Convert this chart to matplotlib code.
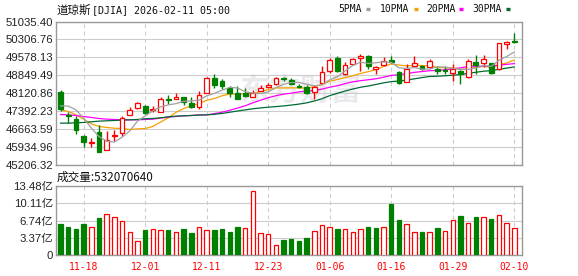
import numpy as np
import pandas as pd
import matplotlib
matplotlib.use('Agg')
import matplotlib.pyplot as plt
from matplotlib.lines import Line2D

plt.rcParams['font.family'] = ['Liberation Sans', 'Noto Sans CJK SC']

dates = ['11-13', '11-14', '11-17', '11-18', '11-19', '11-20', '11-21', '11-24', '11-25', '11-26',
         '11-28', '12-01', '12-02', '12-03', '12-04', '12-05', '12-08', '12-09', '12-10', '12-11',
         '12-12', '12-15', '12-16', '12-17', '12-18', '12-19', '12-22', '12-23', '12-24', '12-26',
         '12-29', '12-30', '12-31', '01-02', '01-05', '01-06', '01-07', '01-08', '01-09', '01-12',
         '01-13', '01-14', '01-15', '01-16', '01-20', '01-21', '01-22', '01-23', '01-26', '01-27',
         '01-28', '01-29', '01-30', '02-02', '02-03', '02-04', '02-05', '02-06', '02-09', '02-10']
label_dates = ['11-18', '12-01', '12-11', '12-23', '01-06', '01-16', '01-29', '02-10']

opens = [48175, 47244, 47082, 46395, 46110, 46543, 45801, 46368, 46502, 47231,
         47514, 47609, 47433, 47379, 47892, 47905, 47959, 47717, 47582, 48121,
         48728, 48634, 48337, 48135, 48148, 47986, 48229, 48364, 48485, 48742,
         48661, 48431, 48364, 48175, 48526, 49038, 49537, 48890, 49295, 49537,
         49632, 49106, 49254, 49470, 48998, 48593, 49227, 49227, 49173, 49106,
         49065, 48958, 49025, 48769, 49389, 49362, 49335, 49092, 50118, 50239]
highs = [48242, 47339, 47177, 46420, 46300, 46840, 46584, 46611, 47177, 47555,
         47757, 47663, 47609, 47959, 48054, 48148, 47980, 47959, 48215, 48769,
         48904, 48688, 48418, 48418, 48350, 48256, 48458, 48526, 48769, 48796,
         48728, 48499, 48458, 48458, 49227, 49564, 49632, 49402, 49564, 49699,
         49659, 49227, 49578, 49632, 49038, 49295, 49632, 49254, 49497, 49200,
         49227, 49308, 49065, 49510, 49672, 49672, 49362, 50172, 50253, 50550]
lows = [47420, 46907, 46449, 45922, 45922, 45733, 45801, 46165, 46368, 47231,
        47501, 47271, 47339, 47379, 47690, 47905, 47636, 47530, 47501, 48121,
        48337, 48283, 47986, 47878, 47959, 47986, 48229, 48323, 48458, 48634,
        48458, 48323, 48108, 47878, 48526, 48958, 48998, 48863, 49280, 49038,
        49092, 48890, 49227, 49335, 48485, 48593, 49200, 49065, 49133, 48890,
        48904, 48634, 48485, 48728, 48904, 49200, 48890, 49065, 49902, 50172]
closes = [47474, 47177, 46610, 46125, 46150, 45747, 46233, 46435, 47096, 47447,
          47717, 47299, 47474, 47892, 47865, 47959, 47784, 47555, 48040, 48742,
          48458, 48431, 48135, 47905, 48013, 48148, 48350, 48458, 48755, 48715,
          48499, 48364, 48121, 48391, 48971, 49470, 49038, 49268, 49497, 49632,
          49227, 49173, 49443, 49403, 48526, 49092, 49362, 49106, 49416, 49010,
          49020, 49106, 48904, 49430, 49268, 49497, 48958, 50145, 50185, 50199]

# volume in 亿, and whether the bar is drawn red (up vs previous close)
volume = [6.08, 5.49, 5.17, 6.08, 5.43, 7.26, 7.98, 7.46, 6.67, 4.45,
          2.68, 4.91, 5.10, 4.91, 4.91, 4.45, 5.17, 4.38, 5.49, 4.91,
          4.97, 5.17, 4.58, 5.56, 5.30, 12.56, 4.32, 4.12, 1.90, 3.01,
          3.20, 2.81, 3.40, 4.71, 5.89, 5.49, 5.17, 5.10, 4.51, 5.10,
          5.56, 5.36, 5.49, 10.0, 6.93, 6.08, 4.51, 4.51, 4.51, 5.36,
          4.71, 6.87, 7.65, 6.28, 7.52, 7.46, 7.13, 7.85, 6.28, 5.32]
vol_up = [0, 0, 0, 0, 1, 0, 1, 1, 1, 1,
          1, 0, 1, 1, 0, 1, 0, 0, 1, 1,
          0, 0, 0, 0, 1, 1, 1, 1, 1, 0,
          0, 0, 0, 1, 1, 1, 0, 1, 1, 1,
          0, 0, 1, 0, 0, 1, 1, 0, 1, 0,
          1, 1, 0, 1, 0, 1, 0, 1, 1, 1]

# moving average values read off the chart where the window is not yet full
ma5_head = [47609, 47600, 47450, 47110]
ma10_head = [47447, 47379, 47244, 47069, 46880, 46772, 46732, 46700, 46690]
ma20_head = [47258, 47244, 47217, 47177, 47137, 47096, 47069, 47056, 47042, 47042,
             47042, 47056, 47069, 47110, 47150, 47177, 47204, 47217, 47244]
ma30_head = [46907, 46907, 46921, 46934, 46961, 46988, 47002, 47015, 47029, 47042,
             47056, 47083, 47096, 47123, 47164, 47190, 47204, 47217, 47231, 47244,
             47265, 47300, 47350, 47400, 47445, 47490, 47525, 47555, 47580]

price_ticks = [45206.32, 45934.96, 46663.59, 47392.23, 48120.86, 48849.49, 49578.13, 50306.76, 51035.40]
vol_ticks = [0, 3.37, 6.74, 10.11, 13.48]

RED = '#ff0000'
GREEN = '#008000'
ma_colors = {5: '#a0a0a0', 10: '#f5a200', 20: '#ff00ff', 30: '#006a35'}

x = np.arange(len(dates))
o = np.array(opens, float)
c = np.array(closes, float)
up = c >= o

cl = pd.Series(closes, dtype=float)
mas = {}
for n, head in [(5, ma5_head), (10, ma10_head), (20, ma20_head), (30, ma30_head)]:
    m = cl.rolling(n).mean().to_numpy()
    m[:n - 1] = head
    mas[n] = m

fig = plt.figure(figsize=(5.78, 2.76), dpi=100)
ax = fig.add_axes([56 / 578, 111 / 276, 466 / 578, 143.5 / 276])
axv = fig.add_axes([56 / 578, 21 / 276, 466 / 578, 69 / 276])

tick_pos = [dates.index(d) for d in label_dates]

for a in (ax, axv):
    a.set_xlim(-0.59, 60.0)
    for s in a.spines.values():
        s.set_color('#999999')
        s.set_linewidth(1.0)
    a.set_xticks(tick_pos)
    a.tick_params(length=0, colors='#222222', labelsize=8.2, pad=2)
    a.yaxis.grid(True, color='#cccccc', lw=0.8, ls='-')
    a.xaxis.grid(True, color='#cccccc', lw=0.8, ls=(0, (3.5, 3)))
    a.set_axisbelow(True)

# watermark
ax.text(0.525, 0.52, '东方财富', transform=ax.transAxes, ha='center', va='center',
        fontsize=22, fontweight='bold', color='#e9e9ee', family='Noto Sans CJK SC', zorder=0)

# price panel
ax.set_ylim(price_ticks[0], price_ticks[-1])
ax.set_yticks(price_ticks)
ax.set_yticklabels([f'{v:.2f}' for v in price_ticks])
ax.set_xticklabels([])

for n in (5, 10, 20, 30):
    ax.plot(x, mas[n], color=ma_colors[n], lw=0.9, zorder=4 if n == 5 else 2)

edge = [RED if u else GREEN for u in up]
face = ['white' if u else GREEN for u in up]
ax.vlines(x, lows, highs, colors=edge, lw=1.0, zorder=3)
body_lo = np.minimum(o, c)
body_h = np.maximum(np.abs(c - o), 12)
ax.bar(x, body_h, bottom=body_lo, width=0.62, color=face, edgecolor=edge, linewidth=0.9, zorder=3.5)

# volume panel
axv.set_ylim(0, vol_ticks[-1])
axv.set_yticks(vol_ticks)
axv.set_yticklabels(['0'] + [f'{v:.2f}亿' for v in vol_ticks[1:]])
axv.set_xticklabels(label_dates, color=RED, family='DejaVu Sans Mono', fontsize=7)
axv.tick_params(axis='x', pad=5)
vcol = [RED if u else GREEN for u in vol_up]
vface = ['white' if u else GREEN for u in vol_up]
axv.bar(x, volume, width=0.58, color=vface, edgecolor=vcol, linewidth=0.9, zorder=3)

# header texts
fig.text(57 / 578, 1 - 10 / 276, '道琼斯', va='center', ha='left', fontsize=8.3,
         family='Noto Sans CJK SC', color='#111111')
fig.text(92 / 578, 1 - 10 / 276, '[DJIA] 2026-02-11 05:00', va='center', ha='left',
         fontsize=7.2, family='DejaVu Sans Mono', color='#111111')
fig.text(57 / 578, 1 - 177 / 276, '成交量:532070640', va='center', ha='left', fontsize=8.4,
         family=['Noto Sans CJK SC'], color='#111111')

legend_items = [('5PMA', 338, 366, 5), ('10PMA', 380, 414, 10), ('20PMA', 426, 459, 20), ('30PMA', 472, 506, 30)]
for lab, tx, lx, n in legend_items:
    fig.text(tx / 578, 1 - 9 / 276, lab, va='center', ha='left', fontsize=7,
             family='DejaVu Sans Mono', color='#111111')
    fig.add_artist(Line2D([lx / 578, (lx + 4) / 578], [1 - 9 / 276, 1 - 9 / 276],
                          transform=fig.transFigure, color=ma_colors[n], lw=2.4, solid_capstyle='butt'))

fig.savefig('out.png', dpi=100)
